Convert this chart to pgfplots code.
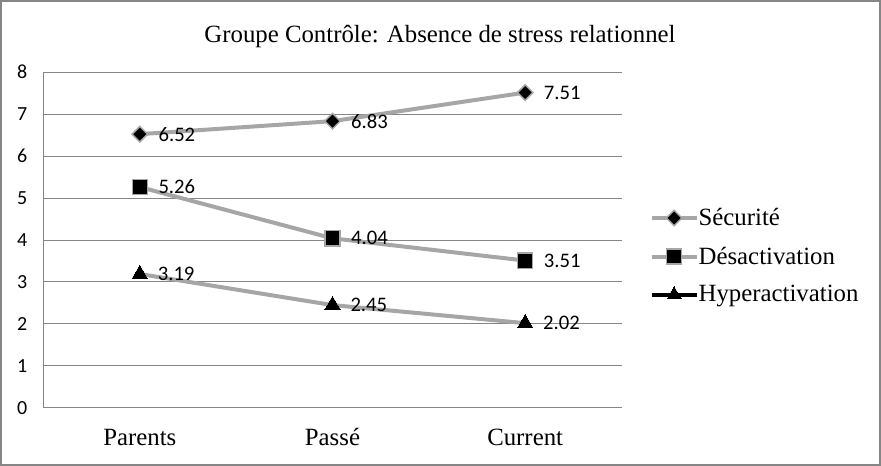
\documentclass[border=0pt]{standalone}
\usepackage{fontspec}
\setmainfont{Liberation Serif}
\newfontfamily\carlito{Carlito}
\newcommand{\yt}[1]{{\carlito\fontsize{15}{18}\selectfont #1}}
\usepackage{pgfplots}
\pgfplotsset{compat=1.18}
\definecolor{linegray}{RGB}{166,166,166}
\definecolor{gridgray}{RGB}{134,134,134}
\begin{document}
\begin{tikzpicture}[x=0.75pt,y=0.75pt]
\path[use as bounding box] (0,0) rectangle (881,466);
\draw[gridgray, line width=1.5pt] (1,1) rectangle (880,465);
\node[anchor=base, font=\fontsize{18.6}{22}\selectfont, inner sep=0pt] at (440,423) {Groupe Contrôle: Absence de stress relationnel};
\begin{axis}[
  at={(32.625pt,43.5pt)}, anchor=south west,
  scale only axis, width=433.5pt, height=252pt,
  xmin=-0.5, xmax=2.5, ymin=0, ymax=8,
  ytick={0,1,2,3,4,5,6,7,8},
  yticklabels={\yt{0},\yt{1},\yt{2},\yt{3},\yt{4},\yt{5},\yt{6},\yt{7},\yt{8}},
  xtick={0,1,2}, xticklabels={Parents,Passé,Current},
  axis x line=bottom, axis y line=left,
  axis line style={gridgray, line width=0.75pt, -},
  ymajorgrids, grid style={gridgray, line width=0.75pt},
  major tick length=0pt,
  /pgf/number format/assume math mode=true,
  yticklabel style={font=\carlito\fontsize{15}{18}\selectfont, anchor=east, inner sep=0pt, xshift=-12pt},
  xticklabel style={font=\fontsize{18.6}{22}\selectfont, anchor=base, inner sep=0pt, yshift=-28.3pt},
  legend style={draw=none, fill=none, font=\fontsize{18.6}{22}\selectfont, at={(1.048,0.452)}, anchor=west, inner sep=0pt, row sep=10.5pt,
    nodes={inner xsep=0pt},
    /tikz/every odd column/.append style={column sep=0pt}},
  legend cell align=left,
  legend image code/.code={\draw[mark repeat=2,mark phase=2,#1] plot coordinates {(0cm,0cm) (0.595cm,0cm) (1.19cm,0cm)};},
  nodes near coords,
  point meta=explicit symbolic,
  every node near coord/.append style={font=\carlito\fontsize{15.5}{18}\selectfont, anchor=west, inner sep=0pt, xshift=13.5pt, text=black},
  clip=false,
]
\addplot[linegray, line width=3pt, mark=square*, mark size=4.1pt,
  mark options={rotate=45, fill=black, draw=linegray, line width=1.1pt}]
  coordinates {(0,6.52) [6.52] (1,6.83) [6.83] (2,7.51) [7.51]};
\addlegendentry{Sécurité}
\addplot[linegray, line width=3pt, mark=square*, mark size=5.7pt,
  mark options={fill=black, draw=linegray, line width=1pt}]
  coordinates {(0,5.26) [5.26] (1,4.04) [4.04] (2,3.51) [3.51]};
\addlegendentry{Désactivation}
\addplot[linegray, line width=3pt, mark=triangle*, mark size=6.5pt,
  mark options={fill=black, draw=black, line width=0pt}, forget plot]
  coordinates {(0,3.19) [3.19] (1,2.45) [2.45] (2,2.02) [2.02]};
\addlegendimage{black, line width=3pt, mark=triangle*, mark size=6pt, mark options={fill=black, draw=black, line width=0pt}}
\addlegendentry{Hyperactivation}
\end{axis}
\end{tikzpicture}
\end{document}
